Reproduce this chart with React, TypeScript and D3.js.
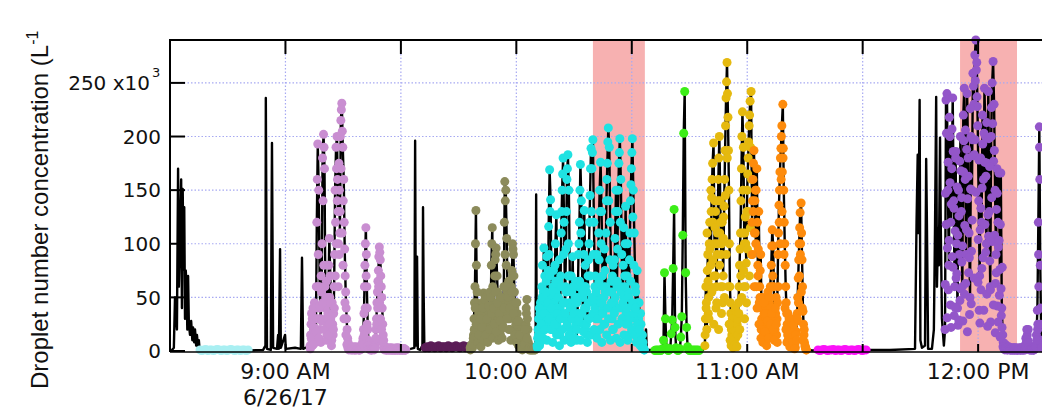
import React from "react";
import * as d3 from "d3";

// ---- time axis: minutes after 8:30 AM on 6/26/17 ----
const BASE_TIME = new Date(2017, 5, 26, 8, 30);
const X_END_MIN = 226.6;
const Y_MAX = 290; // x10^3 L^-1

const yTickValues = [0, 50, 100, 150, 200, 250];
const yTickLabels = ["0", "50", "100", "150", "200", "250 x10"];
const xTickHours = [9, 10, 11, 12];
const xTickLabels = ["9:00 AM", "10:00 AM", "11:00 AM", "12:00 PM"];
const dateLabel = "6/26/17";
const yTitle = "Droplet number concentration (L";

// shaded periods [startMin, endMin]
const shadedPeriods: [number, number][] = [
  [109.9, 123.4],
  [205.3, 220.1],
];

// ---- black-only parts of the record: [minute, value] ----
const blackA: [number, number][] = [
  [0.3, 0], [1.0, 3], [1.3, 50], [1.8, 20], [2.1, 170], [2.3, 60], [2.6, 110], [2.9, 160],
  [3.1, 40], [3.3, 151], [3.5, 76], [3.7, 134], [3.9, 30], [4.1, 75], [4.3, 60], [4.5, 20],
  [4.7, 70], [4.9, 25], [5.2, 15], [5.5, 28], [5.8, 10], [6.0, 22], [6.3, 8], [6.5, 20],
  [6.8, 5], [7.0, 15], [7.3, 3], [7.5, 10], [7.7, 1],
];
const blackB: [number, number][] = [
  [20.8, 0.5], [24.2, 1], [24.8, 5], [24.9, 236], [25.2, 2], [26.2, 1], [26.5, 194], [26.8, 3],
  [27.8, 2], [28.1, 15], [28.3, 2], [28.6, 95], [28.8, 3], [29.9, 15], [30.1, 2], [32.5, 3],
  [34.0, 2], [34.3, 87], [34.6, 2], [35.9, 4],
];
const blackC: [number, number][] = [
  [61.4, 1], [62.5, 2], [63.5, 3], [63.7, 196], [63.9, 5], [64.2, 88], [64.4, 2], [65.0, 1],
  [65.6, 5], [65.75, 134], [65.9, 57], [66.1, 3],
];
const blackD: [number, number][] = [[95.0, 2], [95.15, 146], [95.3, 3]];
const blackE: [number, number][] = [[123.7, 20], [123.9, 1], [125.0, 1], [125.8, 0.5], [137.8, 0.5], [138.5, 1]];
const blackF: [number, number][] = [[165.6, 1], [167.0, 0.5], [168.2, 1]];
const blackG: [number, number][] = [
  [180.9, 1], [187.1, 1], [193.6, 2], [194.0, 120], [194.3, 183], [194.5, 110], [194.8, 234],
  [195.0, 10], [195.4, 3], [196.2, 5], [196.5, 179], [196.7, 117], [197.0, 2], [198.0, 2],
  [198.5, 20], [198.8, 115], [199.1, 237], [199.3, 60], [199.6, 115], [199.8, 80], [200.1, 199],
  [200.3, 115], [200.6, 30], [201.1, 5],
];

// ---- coloured sampling legs (regular sampling; A = main pass, B and C = extra marker passes) ----
const lightCyanValues = [
  1, 0.5, 1, 1.5, 0.5, 1, 1, 0.5, 1, 1.5, 1, 0.5, 1, 1, 0.5, 1, 1.5, 1, 0.5, 1, 1, 0.5, 1, 1, 0.5, 1,
];
const lavenderValues = [
  5, 25, 10, 40, 15, 30, 8, 120, 193, 150, 60, 30, 55, 180, 202, 170, 40, 65, 25, 50,
  105, 70, 20, 45, 15, 60, 150, 190, 200, 130, 175, 110, 215, 231, 190, 160, 95, 55, 30, 12,
  5, 3, 2, 4, 2, 3, 1, 2, 4, 2, 3, 1, 2, 5, 3, 12, 35, 80, 115, 60,
  20, 6, 3, 2, 1, 3, 2, 4, 10, 30, 55, 75, 97, 85, 60, 40, 15, 5, 2, 1,
  3, 2, 1, 2, 1, 3, 1, 2, 1, 1, 2, 1, 3, 1, 2, 1, 1, 2, 1, 1,
];
const lavenderValuesB = [
  15, 35, 5, 20, 45, 12, 60, 160, 90, 40, 20, 70, 100, 140, 190, 60, 30, 15, 35, 80,
  50, 30, 10, 25, 35, 90, 120, 170, 160, 100, 150, 200, 225, 205, 140, 120, 70, 40, 20, 8,
  4, 2, 3, 1, 2, 4, 2, 1, 3, 2, 1, 3, 2, 4, 8, 20, 60, 100, 90, 40,
  10, 4, 2, 1, 2, 3, 1, 6, 20, 45, 65, 88, 92, 70, 50, 25, 10, 3, 2, 1,
  2, 1, 3, 1, 2, 1, 1, 2, 1, 3, 1, 2, 1, 1, 2, 1, 1, 2, 1, 1,
];
const lavenderValuesC = [
  2, 12, 30, 6, 22, 40, 18, 30, 60, 12, 42, 8, 28, 45, 80, 20, 50, 10, 30, 15,
  25, 45, 5, 35, 20, 40, 70, 100, 140, 60, 90, 130, 170, 110, 80, 30, 45, 15, 6, 3,
  1, 2, 1, 3, 1, 2, 1, 3, 1, 2, 2, 1, 1, 2, 3, 6, 15, 40, 70, 25,
  5, 2, 1, 2, 1, 2, 3, 2, 12, 25, 40, 60, 45, 30, 20, 8, 3, 1, 2, 1,
  1, 2, 1, 2, 1, 1, 2, 1, 1, 2, 1, 1, 2, 1, 1, 2, 1, 1, 2, 1,
];
const darkPurpleValues = [
  3, 4, 3, 5, 4, 3, 4, 5, 3, 4, 4, 3, 5, 4, 3, 4, 5, 4, 3, 4, 5, 3, 4, 3,
];
const oliveValues = [
  3, 5, 4, 8, 30, 60, 131, 45, 20, 35, 10, 6, 15, 25, 54, 20, 35, 12, 52, 25,
  40, 18, 80, 115, 30, 55, 85, 96, 70, 40, 25, 50, 20, 40, 30, 60, 158, 150, 105, 45,
  65, 30, 50, 40, 100, 90, 55, 30, 20, 35, 10, 22, 6, 3, 8, 2, 4, 10, 25, 48,
  20, 4, 2, 3, 1, 2, 3, 2,
];
const oliveValuesB = [
  2, 6, 3, 15, 45, 100, 80, 30, 12, 25, 18, 8, 35, 45, 15, 28, 50, 22, 38, 30,
  55, 25, 100, 60, 45, 70, 90, 35, 55, 30, 40, 15, 35, 25, 45, 120, 140, 80, 55, 35,
  45, 20, 60, 75, 95, 70, 40, 25, 45, 15, 28, 12, 4, 6, 2, 5, 3, 15, 35, 30,
  8, 3, 1, 2, 3, 1, 2, 1,
];
const oliveValuesC = [
  1, 3, 6, 12, 20, 40, 25, 55, 8, 15, 30, 4, 22, 40, 10, 48, 15, 30, 8, 42,
  20, 50, 35, 12, 40, 25, 55, 18, 45, 10, 35, 28, 50, 12, 22, 40, 90, 60, 30, 50,
  20, 40, 10, 55, 70, 35, 15, 45, 8, 28, 5, 15, 2, 4, 1, 3, 6, 20, 40, 12,
  2, 1, 3, 1, 2, 1, 2, 1,
];
const cyanValues = [
  5, 20, 10, 35, 15, 60, 30, 96, 70, 40, 88, 25, 116, 169, 141, 50, 30, 75, 45, 100,
  127, 60, 20, 85, 40, 110, 150, 180, 120, 45, 95, 160, 183, 150, 70, 30, 55, 88, 20, 45,
  65, 10, 35, 90, 120, 174, 140, 60, 25, 131, 80, 40, 15, 70, 100, 145, 189, 170, 197, 120,
  60, 30, 90, 50, 110, 150, 176, 130, 70, 40, 95, 55, 140, 175, 208, 190, 120, 65, 30, 80,
  45, 105, 150, 60, 130, 175, 198, 160, 90, 40, 115, 70, 135, 50, 100, 25, 85, 140, 170, 198,
  150, 110, 60, 30, 75, 20, 45, 10, 25, 5, 8, 2,
];
const cyanValuesB = [
  12, 30, 5, 45, 25, 80, 55, 20, 50, 65, 35, 75, 90, 130, 40, 20, 60, 35, 80, 55,
  25, 40, 65, 15, 70, 130, 165, 90, 30, 60, 130, 170, 100, 45, 20, 70, 40, 10, 30, 50,
  25, 45, 60, 100, 150, 110, 35, 50, 90, 60, 20, 55, 30, 85, 120, 170, 130, 185, 90, 45,
  70, 15, 60, 35, 85, 130, 100, 45, 60, 25, 75, 110, 160, 195, 140, 85, 40, 55, 20, 65,
  85, 130, 40, 95, 150, 185, 120, 60, 30, 80, 50, 100, 35, 70, 55, 15, 110, 155, 185, 125,
  80, 40, 55, 15, 45, 30, 12, 35, 8, 15, 3, 1,
];
const cyanValuesC = [
  3, 15, 40, 8, 25, 50, 12, 35, 20, 55, 10, 45, 30, 70, 20, 40, 8, 55, 25, 65,
  15, 35, 50, 5, 30, 60, 20, 45, 10, 35, 55, 25, 70, 15, 40, 8, 30, 60, 35, 12,
  45, 20, 50, 30, 65, 10, 35, 55, 18, 40, 60, 25, 8, 45, 30, 70, 15, 50, 35, 20,
  40, 55, 12, 30, 65, 20, 45, 8, 35, 50, 25, 60, 15, 40, 30, 55, 10, 45, 70, 20,
  35, 50, 12, 65, 25, 40, 8, 55, 30, 45, 15, 60, 25, 40, 10, 50, 30, 65, 20, 45,
  35, 15, 40, 8, 25, 12, 20, 5, 10, 3, 2, 1,
];
const greenValues = [
  0.5, 1, 0.5, 1, 0.5, 1, 0.5, 1, 2, 10, 73, 30, 3, 1, 0.5, 1, 2, 16, 29, 77,
  132, 22, 3, 1, 0.5, 1, 2, 13, 32, 108, 203, 242, 73, 22, 4, 1, 0.5, 1, 0.5, 1,
  0.5, 1, 0.5, 1, 0.5, 1, 0.5,
];
const goldValues = [
  5, 60, 20, 90, 50, 120, 80, 143, 175, 194, 100, 130, 60, 110, 160, 200, 140, 90, 120, 70,
  135, 187, 236, 269, 218, 150, 60, 35, 15, 25, 8, 30, 12, 35, 20, 45, 80, 110, 170, 223,
  190, 100, 125, 82, 150, 180, 210, 233, 242,
];
const goldValuesB = [
  30, 45, 75, 35, 100, 60, 130, 160, 120, 70, 115, 40, 90, 140, 180, 110, 60, 100, 45, 125,
  160, 210, 251, 240, 187, 100, 45, 20, 30, 10, 20, 40, 5, 25, 30, 60, 95, 140, 200, 150,
  60, 110, 100, 130, 165, 195, 220, 190, 160,
];
const goldValuesC = [
  15, 40, 110, 65, 30, 95, 150, 55, 85, 25, 140, 70, 45, 100, 20, 80, 120, 35, 60, 105,
  50, 145, 90, 180, 60, 25, 10, 5, 12, 3, 10, 6, 18, 4, 15, 35, 20, 70, 50, 110,
  75, 30, 60, 45, 95, 130, 70, 115, 90,
];
const orangeValues = [
  120, 160, 187, 140, 100, 170, 80, 130, 60, 90, 30, 50, 15, 25, 40, 10, 45, 20, 35, 60,
  80, 113, 98, 40, 20, 50, 30, 90, 136, 167, 189, 210, 230, 150, 100, 60, 35, 15, 25, 8,
  20, 5, 15, 4, 12, 3, 18, 35, 68, 100, 129, 138, 85, 37, 15, 5, 2,
];
const orangeValuesB = [
  140, 175, 110, 150, 60, 120, 95, 45, 75, 20, 40, 25, 35, 8, 30, 20, 55, 45, 15, 40,
  98, 70, 60, 30, 35, 15, 45, 110, 150, 180, 200, 167, 189, 120, 80, 45, 25, 10, 30, 12,
  8, 25, 3, 20, 6, 10, 28, 50, 85, 115, 100, 110, 60, 25, 8, 3, 1,
];
const orangeValuesC = [
  90, 130, 60, 110, 150, 40, 70, 25, 50, 12, 20, 8, 45, 18, 35, 5, 28, 12, 50, 25,
  35, 60, 20, 10, 40, 25, 8, 60, 120, 100, 160, 130, 180, 90, 40, 20, 8, 35, 15, 4,
  12, 30, 8, 25, 2, 15, 10, 30, 45, 70, 90, 55, 40, 10, 20, 4, 1,
];
const magentaValues = [
  1, 0.5, 1, 1.5, 1, 0.5, 1, 1, 1.5, 0.5, 1, 1, 0.5, 1, 1.5, 1, 0.5, 1, 1, 0.5, 1, 1.5, 1, 0.5, 1, 1,
];
const purpleValues = [
  20, 234, 240, 150, 80, 200, 120, 170, 236, 140, 60, 180, 100, 40, 150, 90, 200, 130, 60, 220,
  245, 160, 90, 240, 180, 110, 50, 200, 150, 259, 230, 276, 290, 269, 210, 140, 70, 180, 120, 220,
  160, 245, 200, 100, 175, 242, 130, 60, 200, 250, 270, 230, 150, 90, 170, 120, 166, 76, 166, 40,
  15, 5, 3, 6, 2, 4, 2, 3, 1, 2, 1, 3, 1, 2, 1, 2, 1, 2, 1, 3,
  2, 1, 2, 5, 12, 20, 10, 3, 1, 2, 1, 2, 1, 3, 5, 15, 38, 120, 209, 80,
  10,
];
const purpleValuesB = [
  147, 203, 96, 57, 218, 43, 137, 88, 186, 33, 112, 68, 153, 24, 126, 47, 168, 83, 28, 196,
  117, 63, 188, 142, 73, 34, 151, 93, 197, 247, 183, 252, 262, 228, 104, 38, 113, 57, 152, 87,
  203, 118, 163, 53, 127, 198, 84, 27, 143, 212, 177, 108, 63, 132, 42, 97, 52, 118, 33, 78,
  8, 3, 2, 4, 1, 3, 2, 1, 2, 1, 2, 1, 3, 2, 1, 2, 1, 3, 1, 2,
  1, 2, 1, 3, 8, 15, 20, 5, 2, 1, 2, 1, 1, 2, 3, 8, 25, 60, 160, 40,
  5,
];
const purpleValuesC = [
  62, 118, 31, 176, 103, 157, 22, 207, 78, 133, 41, 186, 72, 108, 29, 177, 58, 143, 98, 167,
  53, 206, 113, 18, 163, 87, 226, 44, 122, 182, 68, 197, 148, 237, 64, 178, 26, 133, 77, 193,
  38, 176, 92, 213, 23, 107, 172, 57, 227, 102, 43, 187, 17, 73, 147, 27, 103, 13, 58, 22,
  4, 2, 1, 3, 2, 1, 4, 2, 1, 3, 1, 2, 1, 1, 3, 1, 2, 2, 1, 1,
  3, 1, 2, 1, 4, 10, 8, 3, 1, 2, 1, 2, 1, 2, 4, 10, 20, 90, 190, 25,
  3,
];

const segmentNames = ["lightCyan", "lavender", "darkPurple", "olive", "cyan", "green", "gold", "orange", "magenta", "purple"];
const segmentColors = ["#a9eff2", "#c98ed1", "#5b1d57", "#8c8b5b", "#20e2e2", "#3cee18", "#e5b90f", "#fd8b0c", "#fb12f8", "#9356c9"];
const segmentStarts = [7.8, 36.4, 66.3, 78.0, 95.4, 126.0, 139.0, 151.25, 168.4, 201.4];
const segmentSteps = [0.5, 0.25, 0.5, 0.25, 0.25, 0.25, 0.25, 0.25, 0.5, 0.25];
const segmentValues = [
  lightCyanValues, lavenderValues, darkPurpleValues, oliveValues, cyanValues,
  greenValues, goldValues, orangeValues, magentaValues, purpleValues,
];
const segmentValuesB = [
  [], lavenderValuesB, [], oliveValuesB, cyanValuesB,
  [], goldValuesB, orangeValuesB, [], purpleValuesB,
];
const segmentValuesC = [
  [], lavenderValuesC, [], oliveValuesC, cyanValuesC,
  [], goldValuesC, orangeValuesC, [], purpleValuesC,
];

type Pt = { t: number; v: number };

export default function App() {
  const W = 1042;
  const H = 410;
  const left = 170;
  const top = 40;
  const bottom = 351;

  const toDate = (m: number) => new Date(BASE_TIME.getTime() + m * 60000);
  const x = d3.scaleTime().domain([toDate(0), toDate(X_END_MIN)]).range([left, W]);
  const y = d3.scaleLinear().domain([0, Y_MAX]).range([bottom, top]);

  const segments = segmentNames.map((name, k) => {
    const pass = (vals: number[], off: number): Pt[] =>
      vals.map((v, i) => ({ t: segmentStarts[k] + (i + off) * segmentSteps[k], v }));
    const main = pass(segmentValues[k], 0);
    const extra = pass(segmentValuesB[k] as number[], 0.5).concat(pass(segmentValuesC[k] as number[], 0.25));
    return { name, color: segmentColors[k], main, markers: main.concat(extra) };
  });

  const blackPts: Pt[] = [blackA, blackB, blackC, blackD, blackE, blackF, blackG]
    .flat()
    .map(([t, v]) => ({ t, v }));
  const linePts: Pt[] = blackPts.concat(segments.flatMap((s) => s.main)).sort((a, b) => a.t - b.t);

  const line = d3
    .line<Pt>()
    .x((d) => x(toDate(d.t)))
    .y((d) => y(d.v));

  const halfHours = d3.timeMinute.every(30)!.range(toDate(0.01), toDate(X_END_MIN));
  const gridColor = "#a7a9f2";
  const font = "'DejaVu Sans', sans-serif";
  const titleFont = "'Liberation Sans', Arial, sans-serif";

  return (
    <svg width={W} height={H} style={{ position: "absolute", left: 0, top: 0, background: "#fff" }}>
      {/* shaded periods */}
      {shadedPeriods.map(([a, b], i) => (
        <rect key={i} x={x(toDate(a))} y={top} width={x(toDate(b)) - x(toDate(a))} height={bottom - top} fill="#f6a9a9" opacity={0.9} />
      ))}
      {/* grid */}
      {yTickValues.slice(1).map((v) => (
        <line key={"gy" + v} x1={left} x2={W} y1={y(v)} y2={y(v)} stroke={gridColor} strokeWidth={1.2} strokeDasharray="1.5,2" />
      ))}
      {halfHours.map((d, i) => (
        <line key={"gx" + i} x1={x(d)} x2={x(d)} y1={top} y2={bottom} stroke={gridColor} strokeWidth={1.2} strokeDasharray="1.5,2" />
      ))}
      {/* data line */}
      <path d={line(linePts) || ""} fill="none" stroke="#000" strokeWidth={2.4} strokeLinejoin="round" />
      {/* coloured markers */}
      {segments.map((s) => (
        <g key={s.name} fill={s.color}>
          {s.markers.map((p, i) => (
            <circle key={i} cx={x(toDate(p.t))} cy={y(p.v)} r={4.5} />
          ))}
        </g>
      ))}
      {/* axes frame */}
      <line x1={left} x2={left} y1={top - 1} y2={bottom + 1} stroke="#000" strokeWidth={2} />
      <line x1={left} x2={W} y1={top} y2={top} stroke="#000" strokeWidth={2} />
      <line x1={left} x2={W} y1={bottom + 1} y2={bottom + 1} stroke="#000" strokeWidth={1.5} />
      {yTickValues.map((v) => (
        <line key={"ty" + v} x1={left} x2={left + 15} y1={y(v)} y2={y(v)} stroke="#000" strokeWidth={2} />
      ))}
      {halfHours.map((d, i) => (
        <g key={"tx" + i}>
          <line x1={x(d)} x2={x(d)} y1={top} y2={top + 14} stroke="#000" strokeWidth={2} />
          <line x1={x(d)} x2={x(d)} y1={bottom + 1} y2={bottom - 7} stroke="#000" strokeWidth={2} />
        </g>
      ))}
      {/* y tick labels */}
      {yTickValues.map((v, i) => (
        <text key={"ly" + v} x={i === yTickValues.length - 1 ? 150 : 161} y={y(v)} dy="0.36em" textAnchor="end" fontFamily={font} fontSize={20} fill="#111">
          {yTickLabels[i]}
        </text>
      ))}
      <text x={152} y={y(250) - 6} fontFamily={font} fontSize={13} fill="#111">3</text>
      {/* x tick labels */}
      {xTickHours.map((h, i) => {
        const d = new Date(2017, 5, 26, h, 0);
        return (
          <text key={"lx" + h} x={x(d)} y={379} textAnchor="middle" fontFamily={font} fontSize={22} fill="#111">
            {xTickLabels[i]}
          </text>
        );
      })}
      <text x={x(new Date(2017, 5, 26, 9, 0))} y={405} textAnchor="middle" fontFamily={font} fontSize={22} fill="#111">
        {dateLabel}
      </text>
      {/* y axis title */}
      <text transform="translate(48,389) rotate(-90)" fontFamily={titleFont} fontSize={24} fill="#111">
        {yTitle}
        <tspan dy={-10} fontSize={16}>-1</tspan>
      </text>
    </svg>
  );
}
